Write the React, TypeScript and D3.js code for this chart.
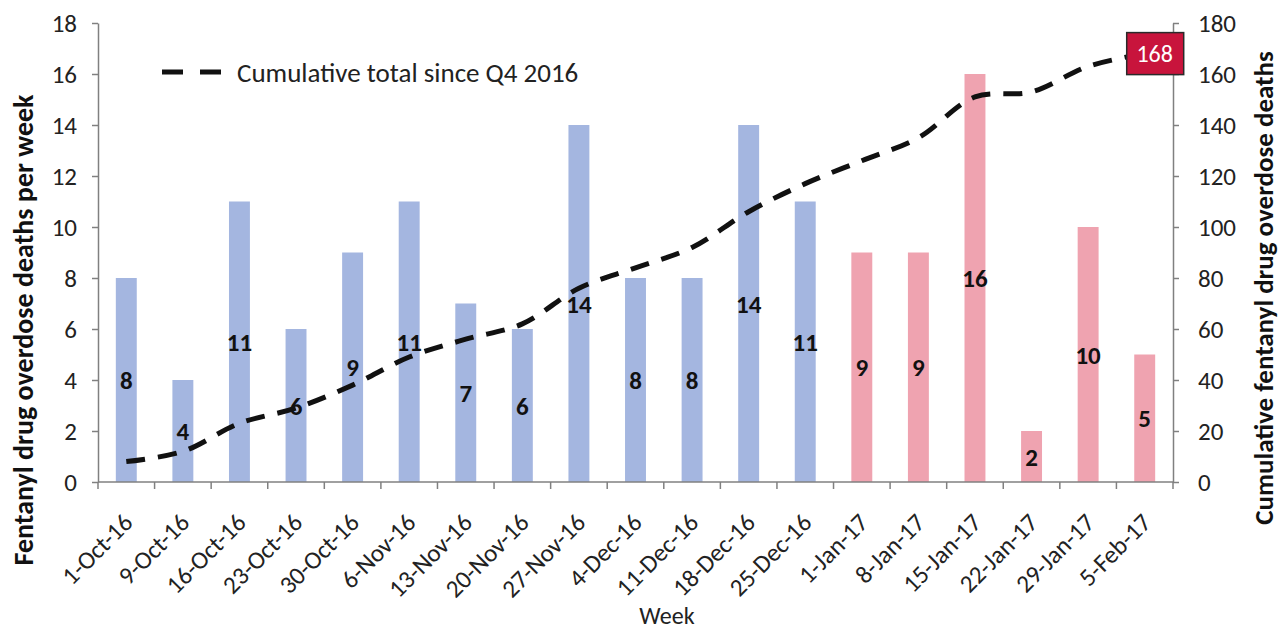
import React, { useEffect, useRef } from 'react';
import * as d3 from 'd3';

const weeks = [
  '1-Oct-16', '9-Oct-16', '16-Oct-16', '23-Oct-16', '30-Oct-16', '6-Nov-16', '13-Nov-16',
  '20-Nov-16', '27-Nov-16', '4-Dec-16', '11-Dec-16', '18-Dec-16', '25-Dec-16', '1-Jan-17',
  '8-Jan-17', '15-Jan-17', '22-Jan-17', '29-Jan-17', '5-Feb-17',
];
const weeklyDeaths = [8, 4, 11, 6, 9, 11, 7, 6, 14, 8, 8, 14, 11, 9, 9, 16, 2, 10, 5];
const cumulativeDeaths = [8, 12, 23, 29, 38, 49, 56, 62, 76, 84, 92, 106, 117, 126, 135, 151, 153, 163, 168];
const leftTicks = [0, 2, 4, 6, 8, 10, 12, 14, 16, 18];
const rightTicks = [0, 20, 40, 60, 80, 100, 120, 140, 160, 180];

const width = 1284;
const height = 633;
const margin = { left: 98, right: 111, top: 23, bottom: 151 };
const font = 'Carlito, "Open Sans", sans-serif';

export default function App() {
  const svgRef = useRef<SVGSVGElement>(null);

  useEffect(() => {
    if (svgRef.current === null) {
      return;
    }
    const svg = d3.select(svgRef.current);
    svg.selectAll('*').remove();

    const x = d3
      .scaleBand<string>()
      .domain(weeks)
      .range([margin.left, width - margin.right])
      .paddingInner(0.63)
      .paddingOuter(0.315);
    const yL = d3.scaleLinear().domain([0, 18]).range([height - margin.bottom, margin.top]);
    const yR = d3.scaleLinear().domain([0, 180]).range([height - margin.bottom, margin.top]);
    const cx = (w: string) => (x(w) as number) + x.bandwidth() / 2;
    const axisColor = '#808080';

    // bars
    svg
      .append('g')
      .selectAll('rect')
      .data(weeks)
      .join('rect')
      .attr('x', (w) => x(w) as number)
      .attr('y', (_, i) => yL(weeklyDeaths[i]))
      .attr('width', x.bandwidth())
      .attr('height', (_, i) => yL(0) - yL(weeklyDeaths[i]))
      .attr('fill', (w) => (w.endsWith('-17') ? '#efa3b0' : '#a4b6e0'));

    // left axis
    const gl = svg
      .append('g')
      .attr('transform', `translate(${margin.left},0)`)
      .call(d3.axisLeft(yL).tickValues(leftTicks).tickSize(6).tickPadding(15).tickSizeOuter(0));
    // right axis
    const gr = svg
      .append('g')
      .attr('transform', `translate(${width - margin.right},0)`)
      .call(d3.axisRight(yR).tickValues(rightTicks).tickSize(6).tickPadding(19).tickSizeOuter(0));
    [gl, gr].forEach((g) => {
      g.selectAll('path, line').attr('stroke', axisColor).attr('stroke-width', 1.5);
      g.selectAll('text').attr('fill', '#222').style('font', `25px ${font}`);
    });

    // x axis with ticks at category boundaries
    const step = x.step();
    const bounds = weeks.map((w) => cx(w) - step / 2).concat([cx(weeks[weeks.length - 1]) + step / 2]);
    const gx = svg.append('g');
    gx.append('line')
      .attr('x1', margin.left)
      .attr('x2', width - margin.right)
      .attr('y1', yL(0))
      .attr('y2', yL(0))
      .attr('stroke', axisColor)
      .attr('stroke-width', 1.5);
    gx.selectAll('line.tick')
      .data(bounds)
      .join('line')
      .attr('class', 'tick')
      .attr('x1', (d) => d)
      .attr('x2', (d) => d)
      .attr('y1', yL(0))
      .attr('y2', yL(0) + 7)
      .attr('stroke', axisColor)
      .attr('stroke-width', 1.5);
    gx.selectAll('text')
      .data(weeks)
      .join('text')
      .attr('transform', (w) => `translate(${cx(w) + 8},${yL(0) + 42}) rotate(-45)`)
      .attr('text-anchor', 'end')
      .attr('fill', '#222')
      .style('font', `25px ${font}`)
      .text((w) => w);

    // cumulative line
    const line = d3
      .line<number>()
      .x((_, i) => cx(weeks[i]))
      .y((d) => yR(d))
      .curve(d3.curveCatmullRom.alpha(0.5));
    svg
      .append('path')
      .datum(cumulativeDeaths)
      .attr('d', line)
      .attr('fill', 'none')
      .attr('stroke', '#111')
      .attr('stroke-width', 5)
      .attr('stroke-dasharray', '19 13');

    // bar value labels
    svg
      .append('g')
      .selectAll('text')
      .data(weeks)
      .join('text')
      .attr('x', (w) => cx(w))
      .attr('y', (_, i) => yL(weeklyDeaths[i] / 2))
      .attr('dy', '0.36em')
      .attr('text-anchor', 'middle')
      .attr('fill', '#111')
      .style('font', `bold 25px ${font}`)
      .text((_, i) => weeklyDeaths[i]);

    // final total callout
    const last = weeks.length - 1;
    const lx = cx(weeks[last]) + 10;
    const ly = yR(cumulativeDeaths[last]);
    svg
      .append('rect')
      .attr('x', lx - 28)
      .attr('y', ly - 21)
      .attr('width', 57)
      .attr('height', 42)
      .attr('fill', '#c8143c')
      .attr('stroke', '#2a2a2a')
      .attr('stroke-width', 1.5);
    svg
      .append('text')
      .attr('x', lx)
      .attr('y', ly)
      .attr('dy', '0.36em')
      .attr('text-anchor', 'middle')
      .attr('fill', '#fff')
      .style('font', `24px ${font}`)
      .text(cumulativeDeaths[last]);

    // legend
    svg
      .append('line')
      .attr('x1', 162)
      .attr('x2', 224)
      .attr('y1', 72)
      .attr('y2', 72)
      .attr('stroke', '#111')
      .attr('stroke-width', 5)
      .attr('stroke-dasharray', '21 17');
    svg
      .append('text')
      .attr('x', 237)
      .attr('y', 72)
      .attr('dy', '0.36em')
      .attr('fill', '#222')
      .style('font', `27px ${font}`)
      .text('Cumulative total since Q4 2016');

    // axis titles
    svg
      .append('text')
      .attr('transform', `translate(23,330) rotate(-90)`)
      .attr('text-anchor', 'middle')
      .attr('dy', '0.35em')
      .attr('fill', '#111')
      .style('font', `bold 28px ${font}`)
      .text('Fentanyl drug overdose deaths per week');
    svg
      .append('text')
      .attr('transform', `translate(1264,288) rotate(-90)`)
      .attr('text-anchor', 'middle')
      .attr('dy', '0.35em')
      .attr('fill', '#111')
      .style('font', `bold 27px ${font}`)
      .text('Cumulative fentanyl drug overdose deaths');
    svg
      .append('text')
      .attr('x', 667)
      .attr('y', 624)
      .attr('text-anchor', 'middle')
      .attr('fill', '#222')
      .style('font', `24px ${font}`)
      .text('Week');
  }, []);

  return (
    <div style={{ position: 'absolute', left: 0, top: 0 }}>
      <svg ref={svgRef} width={width} height={height} style={{ display: 'block', background: '#fff' }} />
    </div>
  );
}
